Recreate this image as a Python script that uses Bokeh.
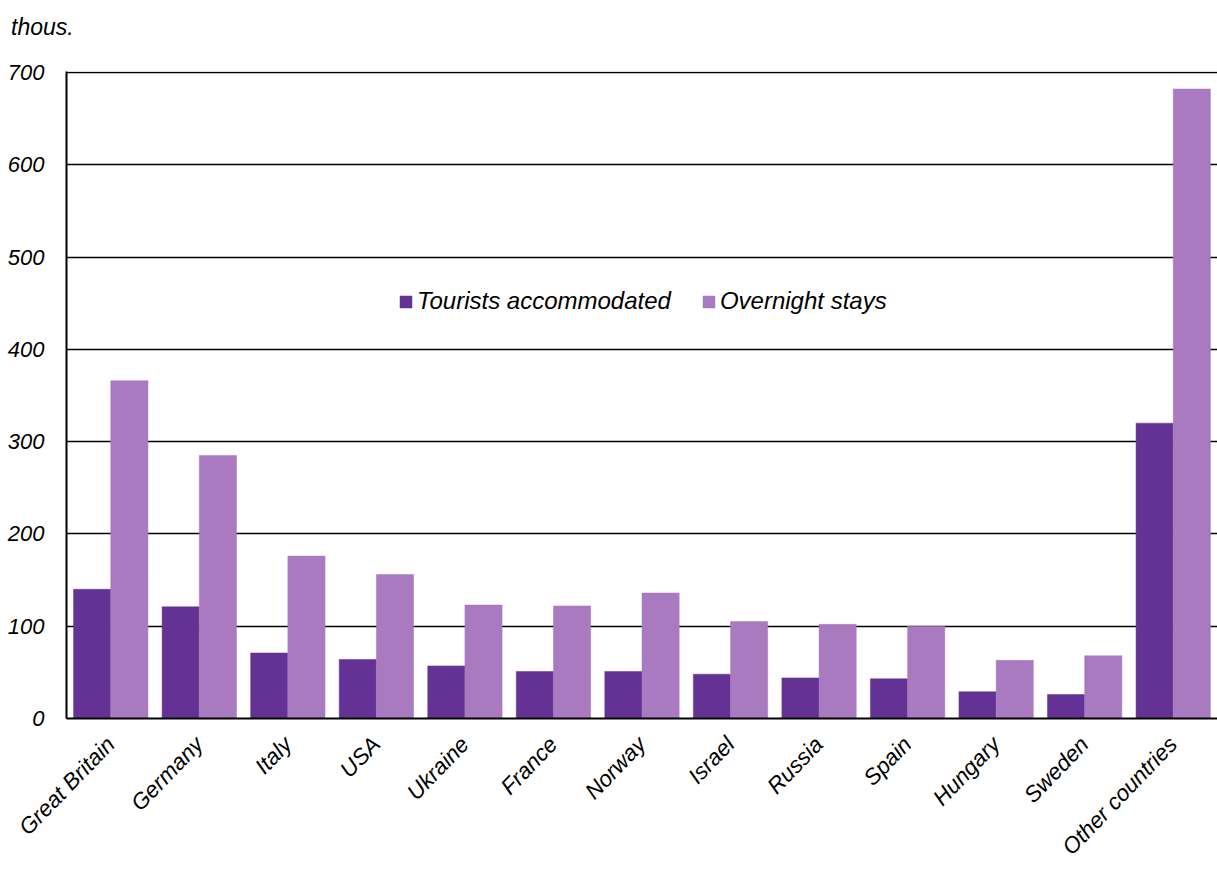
import math
from bokeh.plotting import figure
from bokeh.layouts import column
from bokeh.models import ColumnDataSource, FactorRange, Legend, LegendItem, Range1d, Div
from bokeh.transform import dodge
from bokeh.embed import file_html
from bokeh.resources import INLINE

countries = ["Great Britain", "Germany", "Italy", "USA", "Ukraine", "France", "Norway",
             "Israel", "Russia", "Spain", "Hungary", "Sweden", "Other countries"]
tourists = [140, 121, 71, 64, 57, 51, 51, 48, 44, 43, 29, 26, 320]
overnight = [366, 285, 176, 156, 123, 122, 136, 105, 102, 100, 63, 68, 682]
y_ticks = [0, 100, 200, 300, 400, 500, 600, 700]
unit_label = "thous."

DARK = "#643294"
LIGHT = "#a97abf"
FONT = "Liberation Sans"

source = ColumnDataSource(dict(country=countries, tourists=tourists, overnight=overnight))

p = figure(x_range=FactorRange(*countries), y_range=Range1d(0, 701),
           width=1217, height=827, output_backend="svg", toolbar_location=None,
           min_border_left=66, min_border_top=27, min_border_right=0, min_border_bottom=153)
p.outline_line_color = None
p.background_fill_color = "white"
p.border_fill_color = "white"

r1 = p.vbar(x=dodge("country", -0.21, range=p.x_range), top="tourists", width=0.42,
            source=source, fill_color=DARK, line_color=DARK, line_width=0.5)
r2 = p.vbar(x=dodge("country", 0.21, range=p.x_range), top="overnight", width=0.42,
            source=source, fill_color=LIGHT, line_color=LIGHT, line_width=0.5)

p.x_range.range_padding = 0.0
p.x_range.group_padding = 0.0
p.x_range.factor_padding = 0.0

p.xgrid.grid_line_color = None
p.ygrid.grid_line_color = "black"
p.ygrid.grid_line_width = 1.5
p.yaxis.ticker = y_ticks

for ax in (p.xaxis, p.yaxis):
    ax.axis_line_color = "black"
    ax.axis_line_width = 2
    ax.major_tick_line_color = None
    ax.minor_tick_line_color = None
    ax.major_label_text_font = FONT
    ax.major_label_text_font_style = "italic"
    ax.major_label_text_color = "black"

p.yaxis.major_label_text_font_size = "22px"
p.yaxis.major_label_standoff = 16
p.xaxis.major_label_text_font_size = "22.5px"
p.xaxis.major_label_orientation = math.radians(46)
p.xaxis.major_label_standoff = 16

legend = Legend(items=[LegendItem(label="Tourists accommodated", renderers=[r1]),
                       LegendItem(label="Overnight stays", renderers=[r2])],
                orientation="horizontal", location=(332, 403),
                glyph_width=15, glyph_height=15, label_standoff=4, spacing=30,
                padding=0, margin=0, border_line_color=None, background_fill_alpha=0,
                label_text_font=FONT, label_text_font_style="italic",
                label_text_font_size="24px", label_text_color="black")
p.add_layout(legend, "center")

title = Div(text=unit_label, width=1217, height=44, margin=0,
            styles={"font-family": FONT, "font-style": "italic", "font-size": "23px",
                    "color": "black", "padding-left": "11px", "padding-top": "14px",
                    "line-height": "26px", "box-sizing": "border-box"})

layout = column(title, p, spacing=0)

open("out.html", "w").write(file_html(layout, INLINE))
